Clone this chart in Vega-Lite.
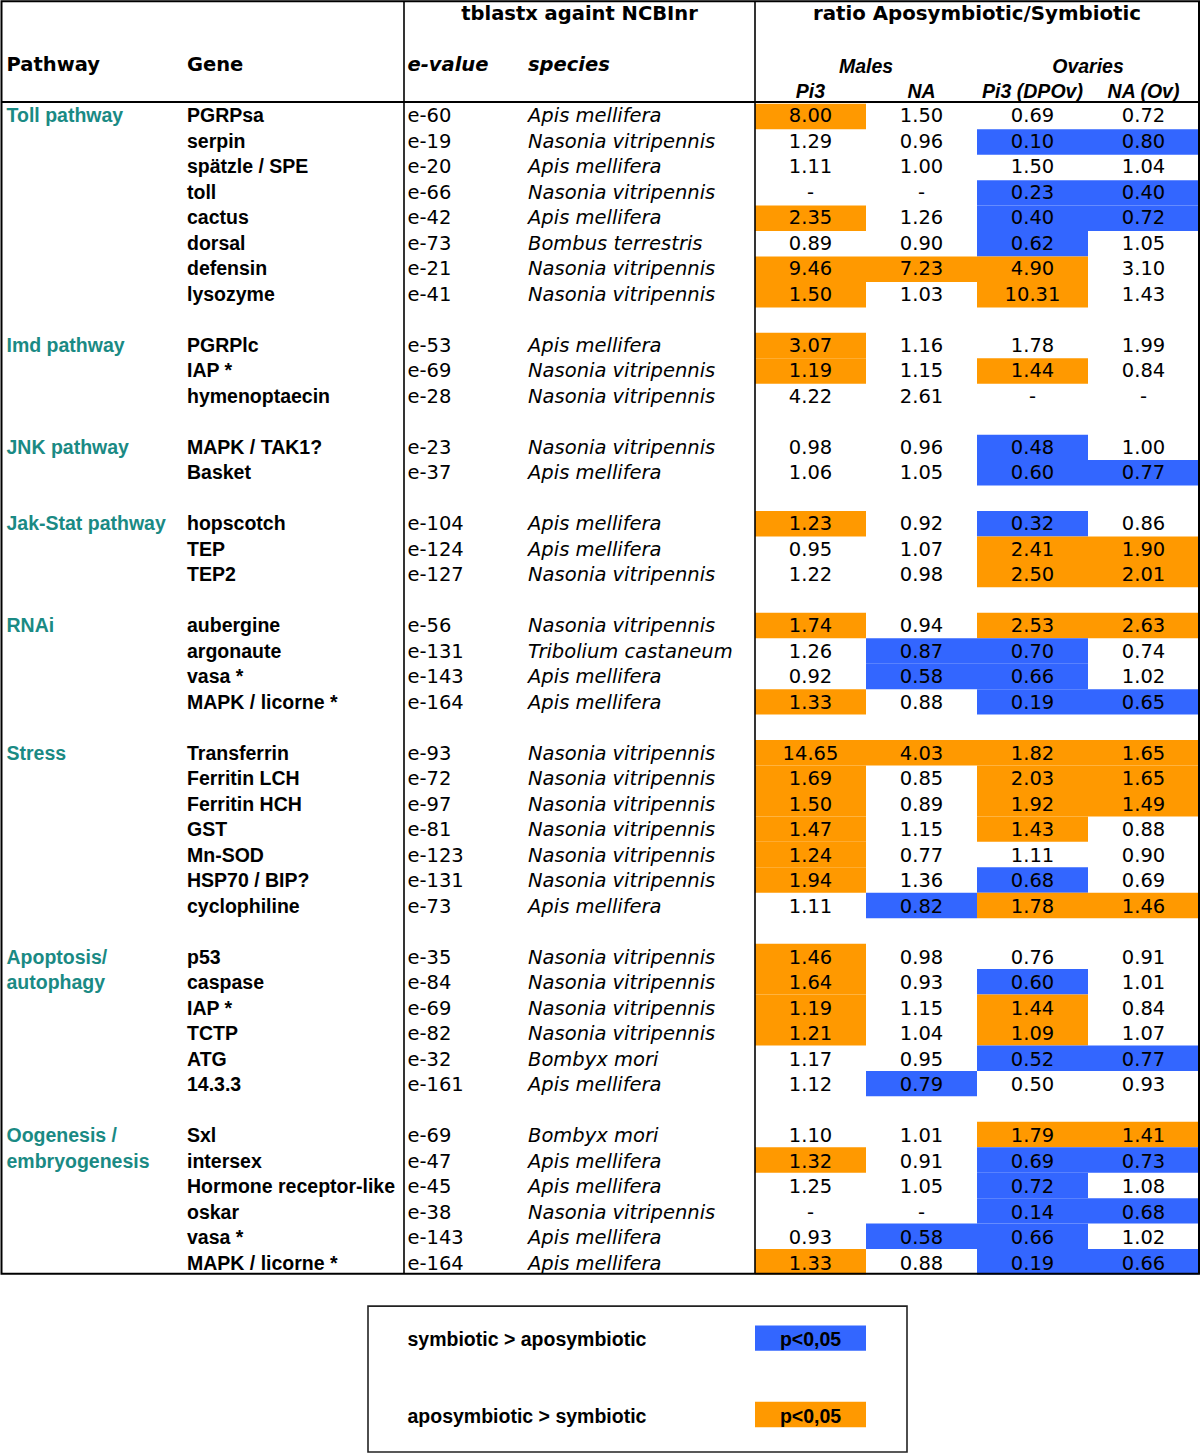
{
"$schema": "https://vega.github.io/schema/vega-lite/v6.json",
"width": 1200, "height": 1453, "padding": 0, "autosize": {"type": "none"},
"background": "white",
"config": {"view": {"stroke": null}, "text": {"baseline": "middle", "fontSize": 19.5, "font": "DejaVu Sans"}},
"resolve": {"scale": {"x": "independent", "y": "independent", "color": "independent"}},
"datasets": {
"genes": [
{"r":0,"p":"Toll pathway","g":"PGRPsa","e":"e-60","sp":"Apis mellifera"},
{"r":1,"g":"serpin","e":"e-19","sp":"Nasonia vitripennis"},
{"r":2,"g":"spätzle / SPE","e":"e-20","sp":"Apis mellifera"},
{"r":3,"g":"toll","e":"e-66","sp":"Nasonia vitripennis"},
{"r":4,"g":"cactus","e":"e-42","sp":"Apis mellifera"},
{"r":5,"g":"dorsal","e":"e-73","sp":"Bombus terrestris"},
{"r":6,"g":"defensin","e":"e-21","sp":"Nasonia vitripennis"},
{"r":7,"g":"lysozyme","e":"e-41","sp":"Nasonia vitripennis"},
{"r":9,"p":"Imd pathway","g":"PGRPlc","e":"e-53","sp":"Apis mellifera"},
{"r":10,"g":"IAP *","e":"e-69","sp":"Nasonia vitripennis"},
{"r":11,"g":"hymenoptaecin","e":"e-28","sp":"Nasonia vitripennis"},
{"r":13,"p":"JNK pathway","g":"MAPK / TAK1?","e":"e-23","sp":"Nasonia vitripennis"},
{"r":14,"g":"Basket","e":"e-37","sp":"Apis mellifera"},
{"r":16,"p":"Jak-Stat pathway","g":"hopscotch","e":"e-104","sp":"Apis mellifera"},
{"r":17,"g":"TEP","e":"e-124","sp":"Apis mellifera"},
{"r":18,"g":"TEP2","e":"e-127","sp":"Nasonia vitripennis"},
{"r":20,"p":"RNAi","g":"aubergine","e":"e-56","sp":"Nasonia vitripennis"},
{"r":21,"g":"argonaute","e":"e-131","sp":"Tribolium castaneum"},
{"r":22,"g":"vasa *","e":"e-143","sp":"Apis mellifera"},
{"r":23,"g":"MAPK / licorne *","e":"e-164","sp":"Apis mellifera"},
{"r":25,"p":"Stress","g":"Transferrin","e":"e-93","sp":"Nasonia vitripennis"},
{"r":26,"g":"Ferritin LCH","e":"e-72","sp":"Nasonia vitripennis"},
{"r":27,"g":"Ferritin HCH","e":"e-97","sp":"Nasonia vitripennis"},
{"r":28,"g":"GST","e":"e-81","sp":"Nasonia vitripennis"},
{"r":29,"g":"Mn-SOD","e":"e-123","sp":"Nasonia vitripennis"},
{"r":30,"g":"HSP70 / BIP?","e":"e-131","sp":"Nasonia vitripennis"},
{"r":31,"g":"cyclophiline","e":"e-73","sp":"Apis mellifera"},
{"r":33,"p":"Apoptosis/","g":"p53","e":"e-35","sp":"Nasonia vitripennis"},
{"r":34,"p":"autophagy","g":"caspase","e":"e-84","sp":"Nasonia vitripennis"},
{"r":35,"g":"IAP *","e":"e-69","sp":"Nasonia vitripennis"},
{"r":36,"g":"TCTP","e":"e-82","sp":"Nasonia vitripennis"},
{"r":37,"g":"ATG","e":"e-32","sp":"Bombyx mori"},
{"r":38,"g":"14.3.3","e":"e-161","sp":"Apis mellifera"},
{"r":40,"p":"Oogenesis /","g":"Sxl","e":"e-69","sp":"Bombyx mori"},
{"r":41,"p":"embryogenesis","g":"intersex","e":"e-47","sp":"Apis mellifera"},
{"r":42,"g":"Hormone receptor-like","e":"e-45","sp":"Apis mellifera"},
{"r":43,"g":"oskar","e":"e-38","sp":"Nasonia vitripennis"},
{"r":44,"g":"vasa *","e":"e-143","sp":"Apis mellifera"},
{"r":45,"g":"MAPK / licorne *","e":"e-164","sp":"Apis mellifera"}
],
"ratios": [
{"r":0,"c":"Pi3","v":"8.00","s":"o"},{"r":0,"c":"NA","v":"1.50"},{"r":0,"c":"Pi3 (DPOv)","v":"0.69"},{"r":0,"c":"NA (Ov)","v":"0.72"},
{"r":1,"c":"Pi3","v":"1.29"},{"r":1,"c":"NA","v":"0.96"},{"r":1,"c":"Pi3 (DPOv)","v":"0.10","s":"b"},{"r":1,"c":"NA (Ov)","v":"0.80","s":"b"},
{"r":2,"c":"Pi3","v":"1.11"},{"r":2,"c":"NA","v":"1.00"},{"r":2,"c":"Pi3 (DPOv)","v":"1.50"},{"r":2,"c":"NA (Ov)","v":"1.04"},
{"r":3,"c":"Pi3","v":"-"},{"r":3,"c":"NA","v":"-"},{"r":3,"c":"Pi3 (DPOv)","v":"0.23","s":"b"},{"r":3,"c":"NA (Ov)","v":"0.40","s":"b"},
{"r":4,"c":"Pi3","v":"2.35","s":"o"},{"r":4,"c":"NA","v":"1.26"},{"r":4,"c":"Pi3 (DPOv)","v":"0.40","s":"b"},{"r":4,"c":"NA (Ov)","v":"0.72","s":"b"},
{"r":5,"c":"Pi3","v":"0.89"},{"r":5,"c":"NA","v":"0.90"},{"r":5,"c":"Pi3 (DPOv)","v":"0.62","s":"b"},{"r":5,"c":"NA (Ov)","v":"1.05"},
{"r":6,"c":"Pi3","v":"9.46","s":"o"},{"r":6,"c":"NA","v":"7.23","s":"o"},{"r":6,"c":"Pi3 (DPOv)","v":"4.90","s":"o"},{"r":6,"c":"NA (Ov)","v":"3.10"},
{"r":7,"c":"Pi3","v":"1.50","s":"o"},{"r":7,"c":"NA","v":"1.03"},{"r":7,"c":"Pi3 (DPOv)","v":"10.31","s":"o"},{"r":7,"c":"NA (Ov)","v":"1.43"},
{"r":9,"c":"Pi3","v":"3.07","s":"o"},{"r":9,"c":"NA","v":"1.16"},{"r":9,"c":"Pi3 (DPOv)","v":"1.78"},{"r":9,"c":"NA (Ov)","v":"1.99"},
{"r":10,"c":"Pi3","v":"1.19","s":"o"},{"r":10,"c":"NA","v":"1.15"},{"r":10,"c":"Pi3 (DPOv)","v":"1.44","s":"o"},{"r":10,"c":"NA (Ov)","v":"0.84"},
{"r":11,"c":"Pi3","v":"4.22"},{"r":11,"c":"NA","v":"2.61"},{"r":11,"c":"Pi3 (DPOv)","v":"-"},{"r":11,"c":"NA (Ov)","v":"-"},
{"r":13,"c":"Pi3","v":"0.98"},{"r":13,"c":"NA","v":"0.96"},{"r":13,"c":"Pi3 (DPOv)","v":"0.48","s":"b"},{"r":13,"c":"NA (Ov)","v":"1.00"},
{"r":14,"c":"Pi3","v":"1.06"},{"r":14,"c":"NA","v":"1.05"},{"r":14,"c":"Pi3 (DPOv)","v":"0.60","s":"b"},{"r":14,"c":"NA (Ov)","v":"0.77","s":"b"},
{"r":16,"c":"Pi3","v":"1.23","s":"o"},{"r":16,"c":"NA","v":"0.92"},{"r":16,"c":"Pi3 (DPOv)","v":"0.32","s":"b"},{"r":16,"c":"NA (Ov)","v":"0.86"},
{"r":17,"c":"Pi3","v":"0.95"},{"r":17,"c":"NA","v":"1.07"},{"r":17,"c":"Pi3 (DPOv)","v":"2.41","s":"o"},{"r":17,"c":"NA (Ov)","v":"1.90","s":"o"},
{"r":18,"c":"Pi3","v":"1.22"},{"r":18,"c":"NA","v":"0.98"},{"r":18,"c":"Pi3 (DPOv)","v":"2.50","s":"o"},{"r":18,"c":"NA (Ov)","v":"2.01","s":"o"},
{"r":20,"c":"Pi3","v":"1.74","s":"o"},{"r":20,"c":"NA","v":"0.94"},{"r":20,"c":"Pi3 (DPOv)","v":"2.53","s":"o"},{"r":20,"c":"NA (Ov)","v":"2.63","s":"o"},
{"r":21,"c":"Pi3","v":"1.26"},{"r":21,"c":"NA","v":"0.87","s":"b"},{"r":21,"c":"Pi3 (DPOv)","v":"0.70","s":"b"},{"r":21,"c":"NA (Ov)","v":"0.74"},
{"r":22,"c":"Pi3","v":"0.92"},{"r":22,"c":"NA","v":"0.58","s":"b"},{"r":22,"c":"Pi3 (DPOv)","v":"0.66","s":"b"},{"r":22,"c":"NA (Ov)","v":"1.02"},
{"r":23,"c":"Pi3","v":"1.33","s":"o"},{"r":23,"c":"NA","v":"0.88"},{"r":23,"c":"Pi3 (DPOv)","v":"0.19","s":"b"},{"r":23,"c":"NA (Ov)","v":"0.65","s":"b"},
{"r":25,"c":"Pi3","v":"14.65","s":"o"},{"r":25,"c":"NA","v":"4.03","s":"o"},{"r":25,"c":"Pi3 (DPOv)","v":"1.82","s":"o"},{"r":25,"c":"NA (Ov)","v":"1.65","s":"o"},
{"r":26,"c":"Pi3","v":"1.69","s":"o"},{"r":26,"c":"NA","v":"0.85"},{"r":26,"c":"Pi3 (DPOv)","v":"2.03","s":"o"},{"r":26,"c":"NA (Ov)","v":"1.65","s":"o"},
{"r":27,"c":"Pi3","v":"1.50","s":"o"},{"r":27,"c":"NA","v":"0.89"},{"r":27,"c":"Pi3 (DPOv)","v":"1.92","s":"o"},{"r":27,"c":"NA (Ov)","v":"1.49","s":"o"},
{"r":28,"c":"Pi3","v":"1.47","s":"o"},{"r":28,"c":"NA","v":"1.15"},{"r":28,"c":"Pi3 (DPOv)","v":"1.43","s":"o"},{"r":28,"c":"NA (Ov)","v":"0.88"},
{"r":29,"c":"Pi3","v":"1.24","s":"o"},{"r":29,"c":"NA","v":"0.77"},{"r":29,"c":"Pi3 (DPOv)","v":"1.11"},{"r":29,"c":"NA (Ov)","v":"0.90"},
{"r":30,"c":"Pi3","v":"1.94","s":"o"},{"r":30,"c":"NA","v":"1.36"},{"r":30,"c":"Pi3 (DPOv)","v":"0.68","s":"b"},{"r":30,"c":"NA (Ov)","v":"0.69"},
{"r":31,"c":"Pi3","v":"1.11"},{"r":31,"c":"NA","v":"0.82","s":"b"},{"r":31,"c":"Pi3 (DPOv)","v":"1.78","s":"o"},{"r":31,"c":"NA (Ov)","v":"1.46","s":"o"},
{"r":33,"c":"Pi3","v":"1.46","s":"o"},{"r":33,"c":"NA","v":"0.98"},{"r":33,"c":"Pi3 (DPOv)","v":"0.76"},{"r":33,"c":"NA (Ov)","v":"0.91"},
{"r":34,"c":"Pi3","v":"1.64","s":"o"},{"r":34,"c":"NA","v":"0.93"},{"r":34,"c":"Pi3 (DPOv)","v":"0.60","s":"b"},{"r":34,"c":"NA (Ov)","v":"1.01"},
{"r":35,"c":"Pi3","v":"1.19","s":"o"},{"r":35,"c":"NA","v":"1.15"},{"r":35,"c":"Pi3 (DPOv)","v":"1.44","s":"o"},{"r":35,"c":"NA (Ov)","v":"0.84"},
{"r":36,"c":"Pi3","v":"1.21","s":"o"},{"r":36,"c":"NA","v":"1.04"},{"r":36,"c":"Pi3 (DPOv)","v":"1.09","s":"o"},{"r":36,"c":"NA (Ov)","v":"1.07"},
{"r":37,"c":"Pi3","v":"1.17"},{"r":37,"c":"NA","v":"0.95"},{"r":37,"c":"Pi3 (DPOv)","v":"0.52","s":"b"},{"r":37,"c":"NA (Ov)","v":"0.77","s":"b"},
{"r":38,"c":"Pi3","v":"1.12"},{"r":38,"c":"NA","v":"0.79","s":"b"},{"r":38,"c":"Pi3 (DPOv)","v":"0.50"},{"r":38,"c":"NA (Ov)","v":"0.93"},
{"r":40,"c":"Pi3","v":"1.10"},{"r":40,"c":"NA","v":"1.01"},{"r":40,"c":"Pi3 (DPOv)","v":"1.79","s":"o"},{"r":40,"c":"NA (Ov)","v":"1.41","s":"o"},
{"r":41,"c":"Pi3","v":"1.32","s":"o"},{"r":41,"c":"NA","v":"0.91"},{"r":41,"c":"Pi3 (DPOv)","v":"0.69","s":"b"},{"r":41,"c":"NA (Ov)","v":"0.73","s":"b"},
{"r":42,"c":"Pi3","v":"1.25"},{"r":42,"c":"NA","v":"1.05"},{"r":42,"c":"Pi3 (DPOv)","v":"0.72","s":"b"},{"r":42,"c":"NA (Ov)","v":"1.08"},
{"r":43,"c":"Pi3","v":"-"},{"r":43,"c":"NA","v":"-"},{"r":43,"c":"Pi3 (DPOv)","v":"0.14","s":"b"},{"r":43,"c":"NA (Ov)","v":"0.68","s":"b"},
{"r":44,"c":"Pi3","v":"0.93"},{"r":44,"c":"NA","v":"0.58","s":"b"},{"r":44,"c":"Pi3 (DPOv)","v":"0.66","s":"b"},{"r":44,"c":"NA (Ov)","v":"1.02"},
{"r":45,"c":"Pi3","v":"1.33","s":"o"},{"r":45,"c":"NA","v":"0.88"},{"r":45,"c":"Pi3 (DPOv)","v":"0.19","s":"b"},{"r":45,"c":"NA (Ov)","v":"0.66","s":"b"}
],
"legend": [
{"r":48,"c":"Pi3","s":"b","v":"p<0,05","label":"symbiotic > aposymbiotic"},
{"r":51,"c":"Pi3","s":"o","v":"p<0,05","label":"aposymbiotic > symbiotic"}
]
},
"layer": [
{"data":{"name":"ratios"},"transform":[{"filter":"datum.s"}],"mark":{"type":"rect"},
 "encoding":{
  "x":{"field":"c","type":"nominal","scale":{"domain":["Pi3","NA","Pi3 (DPOv)","NA (Ov)"],"range":[755,1199],"paddingInner":0,"paddingOuter":0},"axis":null},
  "y":{"field":"r","type":"ordinal","scale":{"domain":[0,1,2,3,4,5,6,7,8,9,10,11,12,13,14,15,16,17,18,19,20,21,22,23,24,25,26,27,28,29,30,31,32,33,34,35,36,37,38,39,40,41,42,43,44,45,46,47,48,49,50,51],"range":[103.8,1427.2],"paddingInner":0,"paddingOuter":0},"axis":null},
  "color":{"field":"s","type":"nominal","scale":{"domain":["b","o"],"range":["#3366FF","#FF9900"]},"legend":null}}},
{"data":{"name":"legend"},"mark":{"type":"rect"},
 "encoding":{
  "x":{"field":"c","type":"nominal","scale":{"domain":["Pi3","NA","Pi3 (DPOv)","NA (Ov)"],"range":[755,1199],"paddingInner":0,"paddingOuter":0},"axis":null},
  "y":{"field":"r","type":"ordinal","scale":{"domain":[0,1,2,3,4,5,6,7,8,9,10,11,12,13,14,15,16,17,18,19,20,21,22,23,24,25,26,27,28,29,30,31,32,33,34,35,36,37,38,39,40,41,42,43,44,45,46,47,48,49,50,51],"range":[103.8,1427.2],"paddingInner":0,"paddingOuter":0},"axis":null},
  "color":{"field":"s","type":"nominal","scale":{"domain":["b","o"],"range":["#3366FF","#FF9900"]},"legend":null}}},
{"data":{"name":"ratios"},"mark":{"type":"text","align":"center"},
 "encoding":{
  "x":{"field":"c","type":"nominal","scale":{"domain":["Pi3","NA","Pi3 (DPOv)","NA (Ov)"],"range":[755,1199],"paddingInner":0,"paddingOuter":0},"axis":null},
  "y":{"field":"r","type":"quantitative","scale":{"domain":[0,51],"range":[116,1416.5],"zero":false,"nice":false},"axis":null},
  "text":{"field":"v"}}},
{"data":{"name":"genes"},"transform":[{"filter":"datum.p"}],"mark":{"type":"text","align":"left","font":"Liberation Sans","fontWeight":"bold","fill":"#1A8A84"},
 "encoding":{
  "x":{"datum":1,"type":"quantitative","scale":{"domain":[0,1,2,3,4,5,6,7,8],"range":[1.5,6.5,187,404,407.5,528,579.5,755,1199],"zero":false,"nice":false},"axis":null},
  "y":{"field":"r","type":"quantitative","scale":{"domain":[0,51],"range":[116,1416.5],"zero":false,"nice":false},"axis":null},
  "text":{"field":"p"}}},
{"data":{"name":"genes"},"mark":{"type":"text","align":"left","font":"Liberation Sans","fontWeight":"bold"},
 "encoding":{
  "x":{"datum":2,"type":"quantitative","scale":{"domain":[0,1,2,3,4,5,6,7,8],"range":[1.5,6.5,187,404,407.5,528,579.5,755,1199],"zero":false,"nice":false},"axis":null},
  "y":{"field":"r","type":"quantitative","scale":{"domain":[0,51],"range":[116,1416.5],"zero":false,"nice":false},"axis":null},
  "text":{"field":"g"}}},
{"data":{"name":"genes"},"mark":{"type":"text","align":"left"},
 "encoding":{
  "x":{"datum":4,"type":"quantitative","scale":{"domain":[0,1,2,3,4,5,6,7,8],"range":[1.5,6.5,187,404,407.5,528,579.5,755,1199],"zero":false,"nice":false},"axis":null},
  "y":{"field":"r","type":"quantitative","scale":{"domain":[0,51],"range":[116,1416.5],"zero":false,"nice":false},"axis":null},
  "text":{"field":"e"}}},
{"data":{"name":"genes"},"mark":{"type":"text","align":"left","fontStyle":"italic"},
 "encoding":{
  "x":{"datum":5,"type":"quantitative","scale":{"domain":[0,1,2,3,4,5,6,7,8],"range":[1.5,6.5,187,404,407.5,528,579.5,755,1199],"zero":false,"nice":false},"axis":null},
  "y":{"field":"r","type":"quantitative","scale":{"domain":[0,51],"range":[116,1416.5],"zero":false,"nice":false},"axis":null},
  "text":{"field":"sp"}}},
{"data":{"values":[{"r":-2,"k":1,"t":"Pathway"},{"r":-2,"k":2,"t":"Gene"}]},"mark":{"type":"text","align":"left","fontWeight":"bold"},
 "encoding":{
  "x":{"field":"k","type":"quantitative","scale":{"domain":[0,1,2,3,4,5,6,7,8],"range":[1.5,6.5,187,404,407.5,528,579.5,755,1199],"zero":false,"nice":false},"axis":null},
  "y":{"field":"r","type":"quantitative","scale":{"domain":[0,51],"range":[116,1416.5],"zero":false,"nice":false},"axis":null},
  "text":{"field":"t"}}},
{"data":{"values":[{"r":-2,"k":4,"t":"e-value"},{"r":-2,"k":5,"t":"species"}]},"mark":{"type":"text","align":"left","fontWeight":"bold","fontStyle":"italic"},
 "encoding":{
  "x":{"field":"k","type":"quantitative","scale":{"domain":[0,1,2,3,4,5,6,7,8],"range":[1.5,6.5,187,404,407.5,528,579.5,755,1199],"zero":false,"nice":false},"axis":null},
  "y":{"field":"r","type":"quantitative","scale":{"domain":[0,51],"range":[116,1416.5],"zero":false,"nice":false},"axis":null},
  "text":{"field":"t"}}},
{"data":{"values":[{"r":-4,"k":6,"t":"tblastx againt NCBInr"}]},"mark":{"type":"text","align":"center","fontWeight":"bold"},
 "encoding":{
  "x":{"field":"k","type":"quantitative","scale":{"domain":[0,1,2,3,4,5,6,7,8],"range":[1.5,6.5,187,404,407.5,528,579.5,755,1199],"zero":false,"nice":false},"axis":null},
  "y":{"field":"r","type":"quantitative","scale":{"domain":[0,51],"range":[116,1416.5],"zero":false,"nice":false},"axis":null},
  "text":{"field":"t"}}},
{"data":{"values":[{"r":-4,"t":"ratio Aposymbiotic/Symbiotic"}]},"mark":{"type":"text","align":"center","fontWeight":"bold","fontSize":19.8},
 "encoding":{
  "x":{"field":"t","type":"nominal","scale":{"type":"point","domain":["Pi3","Males","NA","ratio Aposymbiotic/Symbiotic","Pi3 (DPOv)","Ovaries","NA (Ov)"],"range":[810.5,1143.5],"padding":0},"axis":null},
  "y":{"field":"r","type":"quantitative","scale":{"domain":[0,51],"range":[116,1416.5],"zero":false,"nice":false},"axis":null},
  "text":{"field":"t"}}},
{"data":{"values":[{"r":-2,"t":"Males"},{"r":-2,"t":"Ovaries"},{"r":-1,"t":"Pi3"},{"r":-1,"t":"NA"},{"r":-1,"t":"Pi3 (DPOv)"},{"r":-1,"t":"NA (Ov)"}]},"mark":{"type":"text","align":"center","font":"Liberation Sans","fontWeight":"bold","fontStyle":"italic","dy":1.5},
 "encoding":{
  "x":{"field":"t","type":"nominal","scale":{"type":"point","domain":["Pi3","Males","NA","ratio Aposymbiotic/Symbiotic","Pi3 (DPOv)","Ovaries","NA (Ov)"],"range":[810.5,1143.5],"padding":0},"axis":null},
  "y":{"field":"r","type":"quantitative","scale":{"domain":[0,51],"range":[116,1416.5],"zero":false,"nice":false},"axis":null},
  "text":{"field":"t"}}},
{"data":{"values":[{}]},"mark":{"type":"rect","filled":false,"stroke":"black","strokeWidth":2},
 "encoding":{
  "x":{"datum":0,"type":"quantitative","scale":{"domain":[0,1,2,3,4,5,6,7,8],"range":[1.5,6.5,187,404,407.5,528,579.5,755,1199],"zero":false,"nice":false},"axis":null},
  "x2":{"datum":8},
  "y":{"datum":-4.5,"type":"quantitative","scale":{"domain":[0,51],"range":[116,1416.5],"zero":false,"nice":false},"axis":null},
  "y2":{"datum":45.4}}},
{"data":{"values":[{"k":3},{"k":7}]},"mark":{"type":"rule","stroke":"black","strokeWidth":1.6},
 "encoding":{
  "x":{"field":"k","type":"quantitative","scale":{"domain":[0,1,2,3,4,5,6,7,8],"range":[1.5,6.5,187,404,407.5,528,579.5,755,1199],"zero":false,"nice":false},"axis":null},
  "y":{"datum":-4.5,"type":"quantitative","scale":{"domain":[0,51],"range":[116,1416.5],"zero":false,"nice":false},"axis":null},
  "y2":{"datum":45.4}}},
{"data":{"values":[{}]},"mark":{"type":"rule","stroke":"black","strokeWidth":2},
 "encoding":{
  "x":{"datum":0,"type":"quantitative","scale":{"domain":[0,1,2,3,4,5,6,7,8],"range":[1.5,6.5,187,404,407.5,528,579.5,755,1199],"zero":false,"nice":false},"axis":null},
  "x2":{"datum":8},
  "y":{"datum":-0.55,"type":"quantitative","scale":{"domain":[0,51],"range":[116,1416.5],"zero":false,"nice":false},"axis":null}}},
{"data":{"values":[{}]},"mark":{"type":"rect","filled":false,"stroke":"#222222","strokeWidth":1.6,"xOffset":-39.5,"x2Offset":152},
 "encoding":{
  "x":{"datum":4,"type":"quantitative","scale":{"domain":[0,1,2,3,4,5,6,7,8],"range":[1.5,6.5,187,404,407.5,528,579.5,755,1199],"zero":false,"nice":false},"axis":null},
  "x2":{"datum":7},
  "y":{"datum":46.67,"type":"quantitative","scale":{"domain":[0,51],"range":[116,1416.5],"zero":false,"nice":false},"axis":null},
  "y2":{"datum":52.39}}},
{"data":{"name":"legend"},"mark":{"type":"text","align":"center","font":"Liberation Sans","fontWeight":"bold"},
 "encoding":{
  "x":{"field":"c","type":"nominal","scale":{"domain":["Pi3","NA","Pi3 (DPOv)","NA (Ov)"],"range":[755,1199],"paddingInner":0,"paddingOuter":0},"axis":null},
  "y":{"field":"r","type":"quantitative","scale":{"domain":[0,51],"range":[116,1416.5],"zero":false,"nice":false},"axis":null},
  "text":{"field":"v"}}},
{"data":{"name":"legend"},"mark":{"type":"text","align":"left","font":"Liberation Sans","fontWeight":"bold"},
 "encoding":{
  "x":{"datum":4,"type":"quantitative","scale":{"domain":[0,1,2,3,4,5,6,7,8],"range":[1.5,6.5,187,404,407.5,528,579.5,755,1199],"zero":false,"nice":false},"axis":null},
  "y":{"field":"r","type":"quantitative","scale":{"domain":[0,51],"range":[116,1416.5],"zero":false,"nice":false},"axis":null},
  "text":{"field":"label"}}}
]
}
